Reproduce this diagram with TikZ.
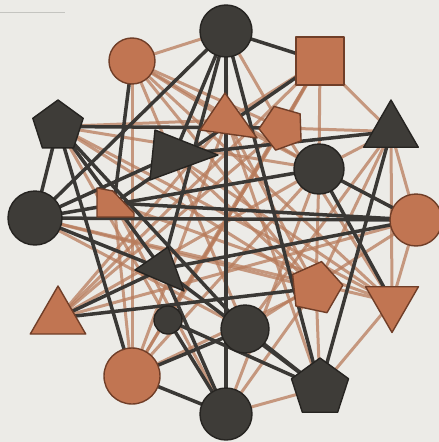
\documentclass[tikz,border=0pt]{standalone}
\usetikzlibrary{shapes.geometric}
\definecolor{bgc}{RGB}{236,235,231}
\definecolor{darkc}{RGB}{62,60,56}
\definecolor{darkb}{RGB}{38,36,33}
\definecolor{copc}{RGB}{193,117,82}
\definecolor{copb}{RGB}{112,62,40}
\definecolor{dedgec}{RGB}{58,56,53}
\definecolor{cedgec}{RGB}{184,124,92}
\definecolor{strayc}{RGB}{196,196,192}
\pgfdeclarelayer{bglayer}
\pgfdeclarelayer{edgelayer}
\pgfsetlayers{bglayer,edgelayer,main}
\begin{document}
\begin{tikzpicture}[x=1pt,y=-1pt,
  darkfill/.style={fill=darkc, draw=darkb, line width=1.4pt, line join=round},
  copfill/.style={fill=copc, draw=copb, line width=1.4pt, line join=round},
  dcirc/.style={circle, darkfill, inner sep=0pt},
  ccirc/.style={circle, copfill, inner sep=0pt},
  dpoly/.style={regular polygon, darkfill, inner sep=0pt},
  cpoly/.style={regular polygon, copfill, inner sep=0pt},
  dedge/.style={draw=dedgec, line width=3.5pt},
  cedge/.style={draw=cedgec, line width=3pt, opacity=0.75}]
\useasboundingbox (0,0) rectangle (439,442);
\begin{pgfonlayer}{bglayer}
  \fill[bgc] (0,0) rectangle (439,442);
  \draw[strayc, line width=1pt] (0,12) -- (65,12);
\end{pgfonlayer}

% nodes
\node[dcirc, minimum size=52pt] (T) at (226,31) {};
\node[ccirc, minimum size=46pt] (CTL) at (132,61) {};
\node[rectangle, copfill, minimum size=48pt, inner sep=0pt] (SQ) at (320,61) {};
\node[dpoly, regular polygon sides=5, minimum size=53pt] (PL) at (58,126.5) {};
\coordinate (CT) at (227,120);
\filldraw[copfill] (225,93) -- (257,138) -- (200,130) -- cycle;
\node[cpoly, regular polygon sides=5, minimum size=46pt, shape border rotate=20] (CP) at (282,128) {};
\coordinate (DTC) at (174,155);
\filldraw[darkfill] (155,130) -- (218,155) -- (150,180) -- cycle;
\node[dpoly, regular polygon sides=3, minimum size=63pt] (DTR) at (391,131.5) {};
\node[dcirc, minimum size=50pt] (DCR) at (319,169) {};
\node[dcirc, minimum size=54pt] (DCL) at (35,218) {};
\coordinate (CSQ) at (114,203);
\filldraw[copfill] (97,188) -- (113,191) -- (134,213) -- (134,217) -- (97,217) -- cycle;
\node[ccirc, minimum size=52pt] (CR) at (416,220) {};
\coordinate (DTL) at (162,269);
\filldraw[darkfill] (135,270) -- (168,247) -- (184,291) -- cycle;
\node[cpoly, regular polygon sides=5, minimum size=54pt, shape border rotate=-12] (CPR) at (316,288) {};
\node[cpoly, regular polygon sides=3, minimum size=61pt, shape border rotate=180] (CTD) at (392,302) {};
\node[cpoly, regular polygon sides=3, minimum size=64pt] (CTW) at (58,318) {};
\node[dcirc, minimum size=28pt] (DSC) at (168,320) {};
\node[dcirc, minimum size=48pt] (DCB) at (245,329) {};
\node[ccirc, minimum size=56pt] (CCB) at (132,376) {};
\node[dpoly, regular polygon sides=5, minimum size=60pt] (DPB) at (320,388) {};
\node[dcirc, minimum size=52pt] (DB) at (226,414) {};

\begin{pgfonlayer}{edgelayer}
  % copper connectors
  \foreach \a/\b in {CTL/T, CTL/CT, CTL/CP, CTL/DCR, CTL/CPR, CTL/DCB, CTL/CCB, CTL/CTD,
                     PL/CSQ, PL/CT, PL/DCR, PL/CPR, PL/CTD, PL/DSC,
                     SQ/CT, SQ/CP, SQ/DTR, SQ/DCR, SQ/CTW, SQ/DSC, SQ/CCB,
                     T/CT, T/CP,
                     CT/CR, CT/CPR, CT/CTW, CT/CCB, CT/DPB,
                     CP/DTR, CP/CTW, CP/CCB, CP/CTD,
                     DTR/DCR, DTR/CR, DTR/CPR, DTR/CTD, DTR/DCB,
                     DCR/CPR, DCR/CTW, DCR/DB,
                     CR/CTD, CR/CTW, CR/DCB,
                     CTD/DPB, CTD/DTC, CTD/CSQ,
                     CPR/DPB, CPR/DCL, CPR/CCB,
                     DPB/DB, DTC/CPR, DCL/CTD, DCL/DCB,
                     CSQ/CCB, CSQ/DB, CCB/DCR, DB/CPR}
    \draw[cedge] (\a.center) -- (\b.center);
  % dark connectors
  \foreach \a/\b in {T/SQ, T/DCL, T/DB, T/DTC, T/DPB, T/DTL,
                     PL/CP, PL/DCL, PL/CCB, PL/DCB, PL/DTL,
                     DCL/CR, DCL/DCR, DCL/DTL, DCL/DTC,
                     CTL/CSQ, SQ/CSQ,
                     DTR/DTC, DTR/DPB,
                     DCR/CR, DCR/CTD,
                     CR/DTL, CR/CSQ,
                     DPB/DCB, DPB/DSC, DPB/DTL,
                     DB/CCB, DB/DSC, DB/DTL,
                     CCB/DCB, CTW/CPR, CTW/DTL}
    \draw[dedge] (\a.center) -- (\b.center);
\end{pgfonlayer}
\end{tikzpicture}
\end{document}
